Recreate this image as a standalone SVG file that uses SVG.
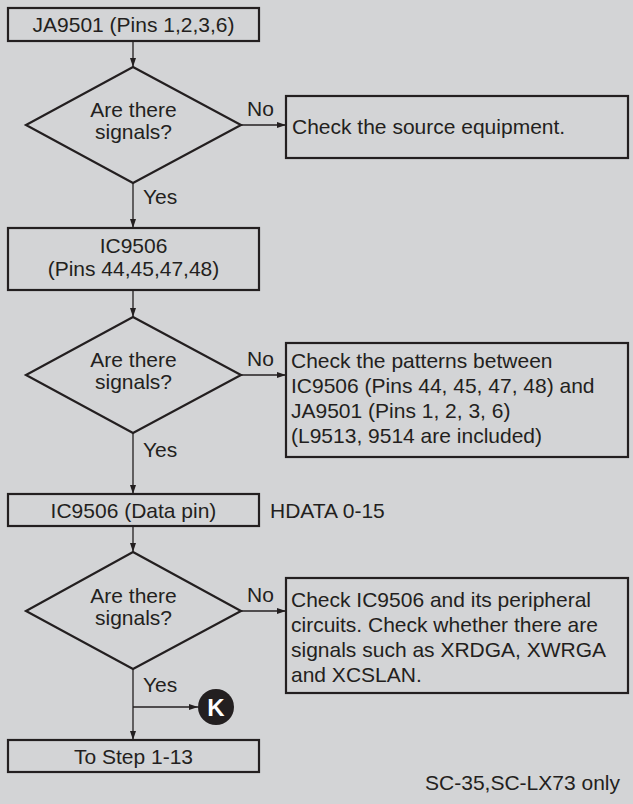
<svg xmlns="http://www.w3.org/2000/svg" width="633" height="804" viewBox="0 0 633 804">
<style>
.bg{fill:#d3d4d6}
.box{fill:none;stroke:#231f20;stroke-width:2.2}
.con{fill:none;stroke:#231f20;stroke-width:1.3}
text{font-family:"Liberation Sans",Arial,sans-serif;font-size:21px;fill:#231f20}
.c{text-anchor:middle}
.k{fill:#fff;font-weight:bold;font-size:24px;text-anchor:middle}
</style>
<defs>
<marker id="ah" markerWidth="9" markerHeight="7" refX="9" refY="3.5" orient="auto" markerUnits="userSpaceOnUse">
<path d="M0,0.5 L9,3.5 L0,6.5 Z" fill="#231f20"/>
</marker>
</defs>
<rect class="bg" x="0" y="0" width="633" height="804"/>
<g id="connectors">
<line class="con" x1="133" y1="41" x2="133" y2="67" marker-end="url(#ah)"/>
<line class="con" x1="241" y1="125" x2="286" y2="125" marker-end="url(#ah)"/>
<line class="con" x1="133" y1="183" x2="133" y2="228" marker-end="url(#ah)"/>
<line class="con" x1="133" y1="290" x2="133" y2="317" marker-end="url(#ah)"/>
<line class="con" x1="241" y1="375" x2="286" y2="375" marker-end="url(#ah)"/>
<line class="con" x1="133" y1="433" x2="133" y2="494" marker-end="url(#ah)"/>
<line class="con" x1="133" y1="526" x2="133" y2="552" marker-end="url(#ah)"/>
<line class="con" x1="241" y1="611" x2="286" y2="611" marker-end="url(#ah)"/>
<line class="con" x1="133" y1="669" x2="133" y2="740" marker-end="url(#ah)"/>
<line class="con" x1="133" y1="707" x2="198" y2="707" marker-end="url(#ah)"/>
<text x="247" y="116">No</text>
<text x="143" y="204">Yes</text>
<text x="247" y="366">No</text>
<text x="143" y="457">Yes</text>
<text x="247" y="602">No</text>
<text x="143" y="692">Yes</text>
</g>
<g id="n1">
<rect class="box" x="8" y="8" width="251" height="33"/>
<text class="c" x="133.5" y="32">JA9501 (Pins 1,2,3,6)</text>
</g>
<g id="d1">
<polygon class="box" points="133,67 241,125 133,183 26,125"/>
<text class="c" x="133.5" y="117">Are there</text>
<text class="c" x="133.5" y="139">signals?</text>
</g>
<g id="n2">
<rect class="box" x="286" y="96" width="342" height="62"/>
<text x="292" y="134">Check the source equipment.</text>
</g>
<g id="n3">
<rect class="box" x="8" y="228" width="251" height="62"/>
<text class="c" x="133.5" y="253">IC9506</text>
<text class="c" x="133.5" y="276">(Pins 44,45,47,48)</text>
</g>
<g id="d2">
<polygon class="box" points="133,317 241,375 133,433 26,375"/>
<text class="c" x="133.5" y="367">Are there</text>
<text class="c" x="133.5" y="389">signals?</text>
</g>
<g id="n4">
<rect class="box" x="286" y="343" width="342" height="114"/>
<text x="291" y="368">Check the patterns between</text>
<text x="291" y="393">IC9506 (Pins 44, 45, 47, 48) and</text>
<text x="291" y="418">JA9501 (Pins 1, 2, 3, 6)</text>
<text x="291" y="443">(L9513, 9514 are included)</text>
</g>
<g id="n5">
<rect class="box" x="8" y="494" width="251" height="32"/>
<text class="c" x="133.5" y="518">IC9506 (Data pin)</text>
</g>
<g id="label-hdata">
<text x="270" y="518">HDATA 0-15</text>
</g>
<g id="d3">
<polygon class="box" points="133,552 241,611 133,669 26,611"/>
<text class="c" x="133.5" y="603">Are there</text>
<text class="c" x="133.5" y="625">signals?</text>
</g>
<g id="n6">
<rect class="box" x="286" y="578" width="342" height="115"/>
<text x="291" y="607">Check IC9506 and its peripheral</text>
<text x="291" y="632">circuits. Check whether there are</text>
<text x="291" y="657">signals such as XRDGA, XWRGA</text>
<text x="291" y="682">and XCSLAN.</text>
</g>
<g id="k">
<circle cx="216" cy="707" r="18" fill="#231f20"/>
<text class="k" x="216" y="716">K</text>
</g>
<g id="n7">
<rect class="box" x="8" y="740" width="251" height="32"/>
<text class="c" x="133.5" y="764">To Step 1-13</text>
</g>
<g id="footnote">
<text x="620" y="790" text-anchor="end">SC-35,SC-LX73 only</text>
</g>
</svg>
